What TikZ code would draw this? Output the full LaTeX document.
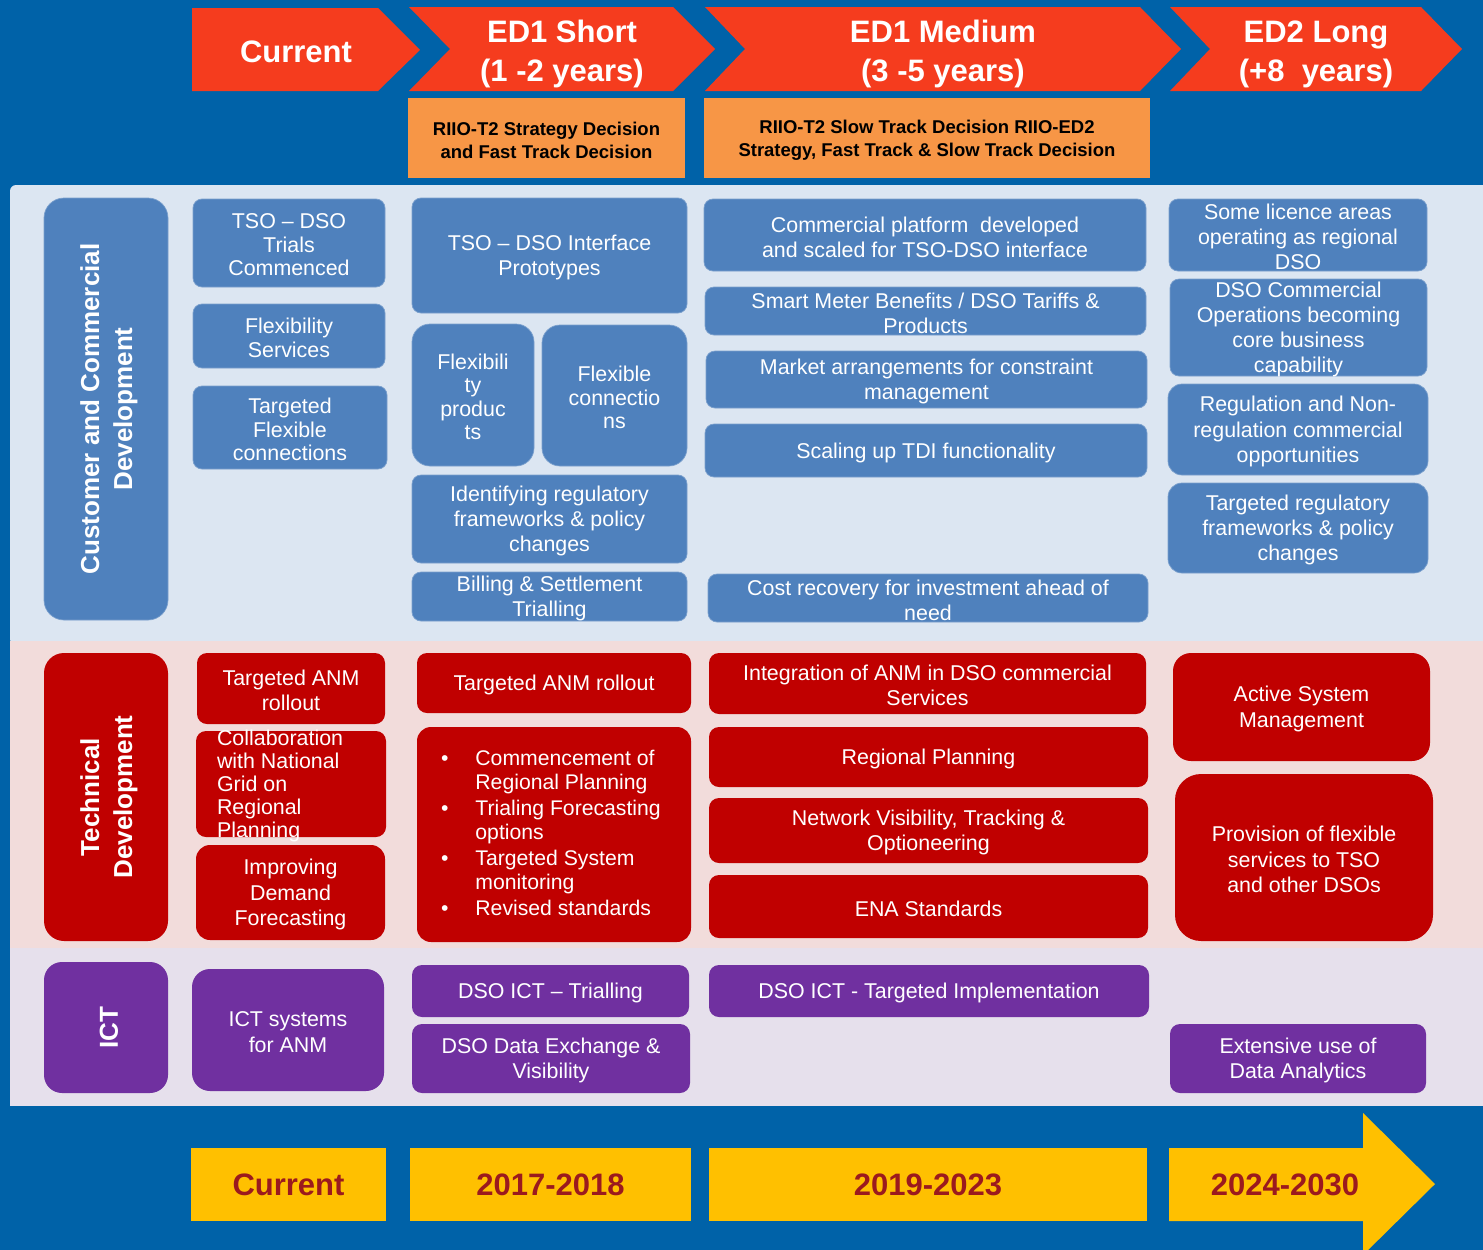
\documentclass[tikz,border=0pt]{standalone}
\usepackage{fontspec}
\setmainfont{Liberation Sans}
\definecolor{bgblue}{RGB}{0,98,168}
\definecolor{hred}{RGB}{245,60,30}
\definecolor{orng}{RGB}{247,150,70}
\definecolor{bandblue}{RGB}{220,230,242}
\definecolor{bandpink}{RGB}{242,220,219}
\definecolor{bandlav}{RGB}{230,224,236}
\definecolor{cblue}{RGB}{79,129,189}
\definecolor{tred}{RGB}{192,0,0}
\definecolor{ipurple}{RGB}{112,48,160}
\definecolor{yel}{RGB}{255,192,0}
\definecolor{dred}{RGB}{155,26,30}
\newcommand\mkbox[8]{%
  \node[#1, minimum width={(#4-#2)*1pt}, minimum height={(#5-#3)*1pt}] (#6) at ({(#2+#4)/2},{(#3+#5)/2}) {};
  \node[#7] (#6-t) at (#6.center) {#8};}
\tikzset{
  base/.style={inner sep=0pt, outer sep=0pt},
  cbox/.style={base, fill=cblue, draw=cblue!75!white, line width=0.7pt, rounded corners=9pt},
  tbox/.style={base, fill=tred, rounded corners=10pt},
  ibox/.style={base, fill=ipurple, rounded corners=10pt},
  txt/.style={base, text=white, align=center, yshift=-2pt, font=\fontsize{21.4}{25.3}\selectfont},
  txtb/.style={base, text=white, align=center, yshift=-2pt, font=\fontsize{21.4}{23.5}\selectfont},
  rot/.style={base, text=white, align=center, xshift=3pt, rotate=90, font=\bfseries\fontsize{26}{33}\selectfont},
  htxt/.style={base, text=white, align=center, yshift=-3pt, font=\bfseries\fontsize{31}{39}\selectfont},
  otxt/.style={base, text=black, align=center, yshift=-2pt, font=\bfseries\fontsize{18.5}{23}\selectfont},
  ytxt/.style={base, text=dred, align=center, font=\bfseries\fontsize{31}{36}\selectfont},
  obox/.style={base, fill=orng},
  ybox/.style={base, fill=yel},
}
\begin{document}
\begin{tikzpicture}[x=1pt,y=-1pt]
\useasboundingbox (0,0) rectangle (1483,1250);
\clip (0,0) rectangle (1483,1250);
\fill[bgblue] (0,0) rectangle (1483,1250);
% bands
\fill[bandblue, rounded corners=6pt] (10,185) rectangle (1500,645);
\fill[bandpink] (10,641) rectangle (1483,948);
\fill[bandlav] (10,948) rectangle (1483,1106);

% header chevrons
\fill[hred] (192,8) -- (378,8) -- (420,50) -- (378,91) -- (192,91) -- cycle;
\fill[hred] (409,7) -- (673,7) -- (715,49) -- (673,91) -- (409,91) -- (450,49) -- cycle;
\fill[hred] (705,7) -- (1140,7) -- (1181,49) -- (1140,91) -- (705,91) -- (745,49) -- cycle;
\fill[hred] (1170,7) -- (1421,7) -- (1462,49) -- (1421,91) -- (1170,91) -- (1210,49) -- cycle;
\node[htxt] (h1) at (296,49) {Current};
\node[htxt] (h2) at (562,51) {ED1 Short\\(1 -2 years)};
\node[htxt] (h3) at (943,51) {ED1 Medium\\(3 -5 years)};
\node[htxt] (h4) at (1316,51) {ED2 Long\\(+8~~years)};

% orange boxes
\mkbox{obox}{408}{98}{685}{178}{o1}{otxt}{RIIO-T2 Strategy Decision\\and Fast Track Decision}
\mkbox{obox}{704}{98}{1150}{178}{o2}{otxt}{RIIO-T2 Slow Track Decision RIIO-ED2\\Strategy, Fast Track \& Slow Track Decision}

% row headers
\mkbox{cbox, rounded corners=20pt}{44}{198}{168}{620}{rh1}{rot}{Customer and Commercial\\Development}
\mkbox{tbox, rounded corners=20pt}{44}{653}{168}{941}{rh2}{rot}{Technical\\Development}
\mkbox{ibox, rounded corners=18pt}{44}{962}{168}{1093}{rh3}{rot}{ICT}

% Customer and commercial - col 1
\mkbox{cbox}{193}{199}{385}{287}{c11}{txtb}{TSO -- DSO\\Trials\\Commenced}
\mkbox{cbox}{193}{304}{385}{368}{c12}{txtb}{Flexibility\\Services}
\mkbox{cbox}{193}{386}{387}{469}{c13}{txtb}{Targeted\\Flexible\\connections}
% col 2
\mkbox{cbox}{412}{198}{687}{313}{c21}{txt}{TSO -- DSO Interface\\Prototypes}
\mkbox{cbox, rounded corners=18pt}{412}{324}{534}{466}{c22}{txtb}{Flexibili\\ty\\produc\\ts}
\mkbox{cbox, rounded corners=18pt}{542}{325}{687}{466}{c23}{txtb}{Flexible\\connectio\\ns}
\mkbox{cbox}{412}{475}{687}{563}{c24}{txt}{Identifying regulatory\\frameworks \& policy\\changes}
\mkbox{cbox}{412}{572}{687}{621}{c25}{txt}{Billing \& Settlement\\Trialling}
% col 3
\mkbox{cbox}{704}{199}{1146}{271}{c31}{txt}{Commercial platform~ developed\\and scaled for TSO-DSO interface}
\mkbox{cbox}{705}{287}{1146}{335}{c32}{txt}{Smart Meter Benefits / DSO Tariffs \&\\Products}
\mkbox{cbox}{706}{351}{1147}{408}{c33}{txt}{Market arrangements for constraint\\management}
\mkbox{cbox}{705}{424}{1147}{477}{c34}{txt}{Scaling up TDI functionality}
\mkbox{cbox}{708}{574}{1148}{622}{c35}{txt}{Cost recovery for investment ahead of\\need}
% col 4
\mkbox{cbox}{1169}{199}{1427}{271}{c41}{txt}{Some licence areas\\operating as regional\\DSO}
\mkbox{cbox}{1170}{279}{1427}{376}{c42}{txt}{DSO Commercial\\Operations becoming\\core business\\capability}
\mkbox{cbox, rounded corners=14pt}{1168}{384}{1428}{475}{c43}{txt}{Regulation and Non-\\regulation commercial\\opportunities}
\mkbox{cbox, rounded corners=14pt}{1168}{483}{1428}{573}{c44}{txt}{Targeted regulatory\\frameworks \& policy\\changes}

% Technical - col 1
\mkbox{tbox}{197}{653}{385}{724}{t11}{txt}{Targeted ANM\\rollout}
\node[tbox, minimum width=190pt, minimum height=106pt] (t12) at (291,784) {};
\node[base, text=white, align=left, anchor=west, yshift=-2pt, font=\fontsize{21.4}{23}\selectfont] (t12-t) at (217,784) {Collaboration\\with National\\Grid on\\Regional\\Planning};
\mkbox{tbox, rounded corners=14pt}{196}{845}{385}{940}{t13}{txt}{Improving\\Demand\\Forecasting}
% col 2
\mkbox{tbox}{417}{653}{691}{713}{t21}{txt}{Targeted ANM rollout}
\node[tbox, rounded corners=14pt, minimum width=274pt, minimum height=215pt] (t22) at (554,834.5) {};
\node[base, text=white, anchor=west, yshift=-2pt, font=\fontsize{21.2}{23.5}\selectfont] (t22-t) at (441,834) {%
\begin{tabular}{@{}l@{\hspace{27pt}}l@{}}
\textbullet & Commencement of\\
 & Regional Planning\\[3pt]
\textbullet & Trialing Forecasting\\
 & options\\[3pt]
\textbullet & Targeted System\\
 & monitoring\\[3pt]
\textbullet & Revised standards
\end{tabular}};
% col 3
\mkbox{tbox}{709}{653}{1146}{714}{t31}{txt}{Integration of ANM in DSO commercial\\Services}
\mkbox{tbox}{709}{727}{1148}{787}{t32}{txt}{Regional Planning}
\mkbox{tbox}{709}{798}{1148}{863}{t33}{txt}{Network Visibility, Tracking \&\\Optioneering}
\mkbox{tbox}{709}{875}{1148}{938}{t34}{txt}{ENA Standards}
% col 4
\mkbox{tbox, rounded corners=18pt}{1173}{653}{1430}{761}{t41}{txt}{Active System\\Management}
\mkbox{tbox, rounded corners=26pt}{1175}{774}{1433}{941}{t42}{txt}{Provision of flexible\\services to TSO\\and other DSOs}

% ICT
\mkbox{ibox, rounded corners=18pt}{192}{969}{384}{1091}{i1}{txt}{ICT systems\\for ANM}
\mkbox{ibox}{412}{965}{689}{1017}{i21}{txt}{DSO ICT -- Trialling}
\mkbox{ibox}{709}{965}{1149}{1017}{i3}{txt}{DSO ICT - Targeted Implementation}
\mkbox{ibox}{412}{1024}{690}{1093}{i22}{txt}{DSO Data Exchange \&\\Visibility}
\mkbox{ibox}{1170}{1024}{1426}{1093}{i4}{txt}{Extensive use of\\Data Analytics}

% bottom timeline
\mkbox{ybox}{191}{1148}{386}{1221}{y1}{ytxt}{Current}
\mkbox{ybox}{410}{1148}{691}{1221}{y2}{ytxt}{2017-2018}
\mkbox{ybox}{709}{1148}{1147}{1221}{y3}{ytxt}{2019-2023}
\fill[yel] (1169,1148) -- (1363,1148) -- (1363,1113) -- (1435,1184) -- (1363,1255) -- (1363,1221) -- (1169,1221) -- cycle;
\node[ytxt] (y4) at (1285,1185) {2024-2030};
\end{tikzpicture}
\end{document}
